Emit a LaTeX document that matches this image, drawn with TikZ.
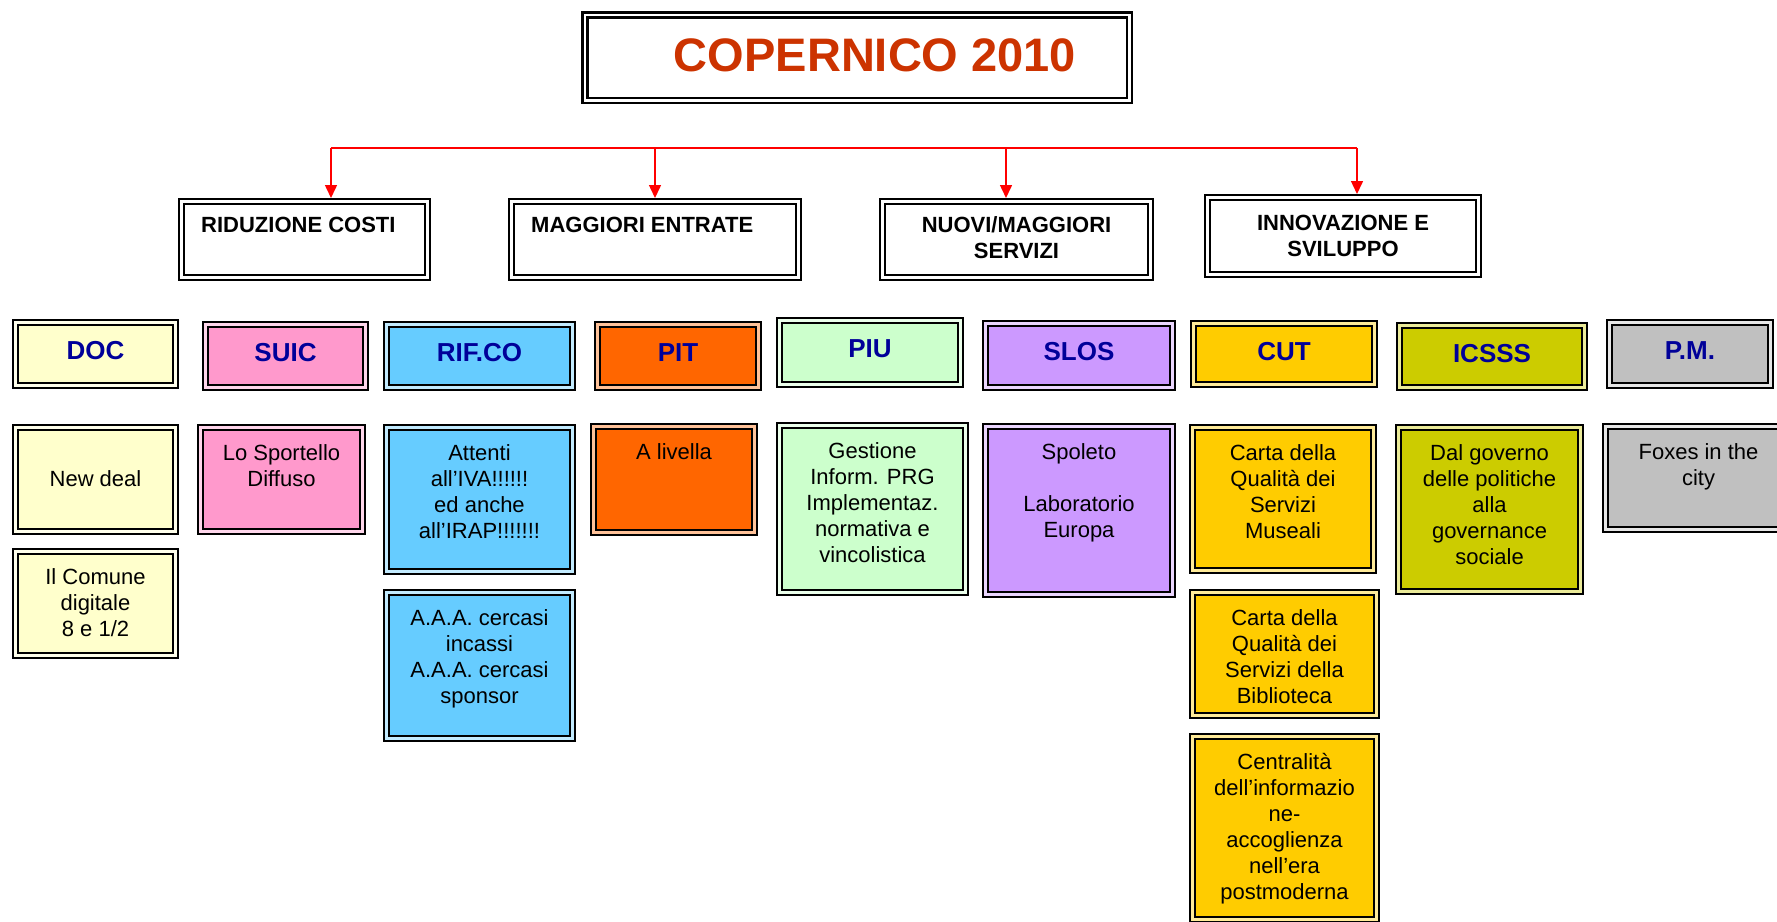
\documentclass[tikz,border=0pt]{standalone}
\usepackage{fontspec}
\setmainfont{Liberation Sans}
\usetikzlibrary{arrows.meta}
\definecolor{cdoc}{HTML}{FFFFCC}
\definecolor{csuic}{HTML}{FF99CC}
\definecolor{crif}{HTML}{66CCFF}
\definecolor{cpit}{HTML}{FF6600}
\definecolor{cpiu}{HTML}{CCFFCC}
\definecolor{cslos}{HTML}{CC99FF}
\definecolor{ccut}{HTML}{FFCC00}
\definecolor{cicsss}{HTML}{CCCC00}
\definecolor{cpm}{HTML}{C0C0C0}
\definecolor{acroblue}{HTML}{000099}
\definecolor{titlered}{HTML}{CC3300}
\definecolor{busred}{HTML}{FF0000}

\tikzset{
  framebox/.style={draw=black, line width=2pt, double distance=3pt, outer sep=3.5pt, inner sep=0pt},
  acrotext/.style={anchor=base, inner sep=0pt, text=acroblue, font=\fontsize{26}{30}\selectfont\bfseries},
  bodytext/.style={anchor=north, inner sep=0pt, font=\fontsize{22}{26}\selectfont},
  headtext/.style={inner sep=0pt, font=\fontsize{22}{26}\selectfont\bfseries},
  bus/.style={draw=busred, line width=2pt},
  drop/.style={draw=busred, line width=1.5pt, -{Triangle[width=12pt,length=13pt]}},
}

% name, x1, y1, x2, y2, colour
\newcommand\mkbox[6]{%
  \pgfmathsetmacro\bw{#4-#2-7}%
  \pgfmathsetmacro\bh{#5-#3-7}%
  \node[framebox, fill=#6, double=#6!40!white, minimum width=\bw pt, minimum height=\bh pt]
    (#1) at ({(#2+#4)/2},{(#3+#5)/2}) {};%
}
\newcommand\acro[2]{\node[acrotext] (#1t) at ([yshift=-40pt]#1.north) {#2};}
\newcommand\bodyt[2]{\node[bodytext] (#1t) at ([yshift=-18.3pt]#1.north) {\parbox[t]{186pt}{\centering\strut #2}};}

\begin{document}
\begin{tikzpicture}[x=1pt, y=-1pt]
\useasboundingbox (0,0) rectangle (1777,921);
\clip (0,0) rectangle (1777,921);

% title
\node[framebox, line width=2.5pt, double=white, double distance=2.5pt, outer sep=3.75pt,
      minimum width=544.5pt, minimum height=85.5pt] (title) at (857,57.5) {};
\node[anchor=base, inner sep=0pt, text=titlered, font=\fontsize{47}{52}\selectfont\bfseries]
  (titlet) at ([xshift=18pt,yshift=-60pt]title.north) {COPERNICO 2010};

% headings
\mkbox{rid}{178}{198}{431}{281}{white}
\mkbox{mag}{508}{198}{802}{281}{white}
\mkbox{nuo}{879}{198}{1154}{281}{white}
\mkbox{inn}{1204}{194}{1482}{278}{white}
\node[headtext, anchor=base west] (ridt) at ([xshift=23pt,yshift=-34pt]rid.north west) {RIDUZIONE COSTI};
\node[headtext, anchor=base west] (magt) at ([xshift=23pt,yshift=-34pt]mag.north west) {MAGGIORI ENTRATE};
\node[headtext, anchor=north] (nuot) at ([yshift=-15.8pt]nuo.north) {\parbox[t]{260pt}{\centering\strut NUOVI/MAGGIORI\\SERVIZI}};
\node[headtext, anchor=north] (innt) at ([yshift=-17.8pt]inn.north) {\parbox[t]{260pt}{\centering\strut INNOVAZIONE E\\SVILUPPO}};

% bus and arrows
\coordinate (j1) at (331,148);
\coordinate (j2) at (655,148);
\coordinate (j3) at (1006,148);
\coordinate (j4) at (1357,148);
\draw[bus] (j1) -- (j4);
\draw[drop] (j1) -- (j1 |- rid.north);
\draw[drop] (j2) -- (j2 |- mag.north);
\draw[drop] (j3) -- (j3 |- nuo.north);
\draw[drop] (j4) -- (j4 |- inn.north);

% acronym row
\mkbox{doc}{12}{319}{179}{389}{cdoc}
\mkbox{suic}{202}{321}{369}{391}{csuic}
\mkbox{rif}{383}{321}{576}{391}{crif}
\mkbox{pit}{594}{321}{762}{391}{cpit}
\mkbox{piu}{776}{317}{964}{388}{cpiu}
\mkbox{slos}{982}{320}{1176}{391}{cslos}
\mkbox{cut}{1190}{320}{1378}{388}{ccut}
\mkbox{icsss}{1396}{322}{1588}{391}{cicsss}
\mkbox{pm}{1606}{319}{1774}{389}{cpm}
\acro{doc}{DOC}
\acro{suic}{SUIC}
\acro{rif}{RIF.CO}
\acro{pit}{PIT}
\acro{piu}{PIU}
\acro{slos}{SLOS}
\acro{cut}{CUT}
\acro{icsss}{ICSSS}
\acro{pm}{P.M.}

% project boxes
\mkbox{newdeal}{12}{424}{179}{535}{cdoc}
\mkbox{comune}{12}{548}{179}{659}{cdoc}
\mkbox{sport}{197}{424}{366}{535}{csuic}
\mkbox{iva}{383}{424}{576}{575}{crif}
\mkbox{aaa}{383}{589}{576}{742}{crif}
\mkbox{livella}{590}{423}{758}{536}{cpit}
\mkbox{prg}{776}{422}{969}{596}{cpiu}
\mkbox{spoleto}{982}{423}{1176}{598}{cslos}
\mkbox{musei}{1189}{424}{1377}{574}{ccut}
\mkbox{biblio}{1189}{589}{1380}{719}{ccut}
\mkbox{centr}{1189}{733}{1380}{923}{ccut}
\mkbox{gov}{1395}{424}{1584}{595}{cicsss}
\mkbox{foxes}{1602}{423}{1795}{533}{cpm}

\bodyt{newdeal}{\mbox{}\\New deal}
\bodyt{comune}{Il Comune\\digitale\\8 e 1/2}
\bodyt{sport}{Lo Sportello\\Diffuso}
\bodyt{iva}{Attenti\\all’IVA!!!!!!\\ed anche\\all’IRAP!!!!!!!}
\bodyt{aaa}{A.A.A. cercasi\\incassi\\A.A.A. cercasi\\sponsor}
\bodyt{livella}{A livella}
\bodyt{prg}{Gestione\\Inform. PRG\\Implementaz.\\normativa e\\vincolistica}
\bodyt{spoleto}{Spoleto\\\mbox{}\\Laboratorio\\Europa}
\bodyt{musei}{Carta della\\Qualità dei\\Servizi\\Museali}
\bodyt{biblio}{Carta della\\Qualità dei\\Servizi della\\Biblioteca}
\bodyt{centr}{Centralità\\dell’informazio\\ne-\\accoglienza\\nell’era\\postmoderna}
\bodyt{gov}{Dal governo\\delle politiche\\alla\\governance\\sociale}
\bodyt{foxes}{Foxes in the\\city}
\end{tikzpicture}
\end{document}
